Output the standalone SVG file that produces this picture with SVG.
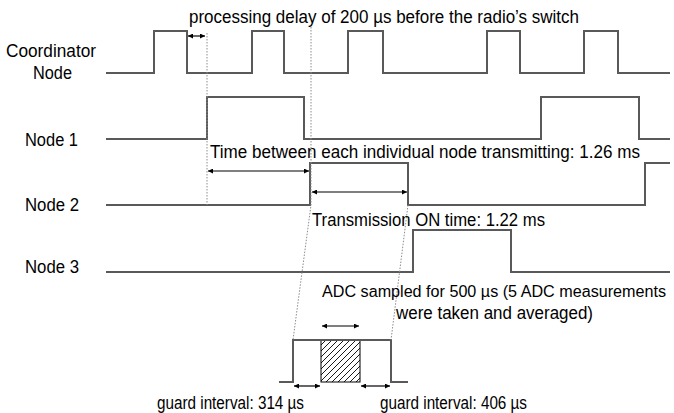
<svg xmlns="http://www.w3.org/2000/svg" width="674" height="413" viewBox="0 0 674 413">
<style>
text{font-family:"Liberation Sans",Arial,sans-serif;font-size:17.5px;fill:#000}
.sig{fill:none;stroke:#595959;stroke-width:2}
.dot{fill:none;stroke:#8c8c8c;stroke-width:1;stroke-dasharray:1.5,1.5}
.arr{fill:none;stroke:#000;stroke-width:1.2;marker-start:url(#ah);marker-end:url(#ah)}
</style>
<defs>
<marker id="ah" viewBox="0 0 10 10" refX="10" refY="5" markerWidth="5" markerHeight="5" orient="auto-start-reverse" markerUnits="userSpaceOnUse">
<path d="M0,0 L10,5 L0,10 z" fill="#000"/>
</marker>
<pattern id="hatch" patternUnits="userSpaceOnUse" width="6" height="6">
<path d="M0,6 L6,0 M-1,1 L1,-1 M5,7 L7,5" stroke="#000" stroke-width="0.9"/>
</pattern>
</defs>

<g id="labels">
<text x="6" y="57" textLength="90" lengthAdjust="spacingAndGlyphs">Coordinator</text>
<text x="33" y="79" textLength="39" lengthAdjust="spacingAndGlyphs">Node</text>
<text x="25" y="146" textLength="53" lengthAdjust="spacingAndGlyphs">Node 1</text>
<text x="25" y="211" textLength="54" lengthAdjust="spacingAndGlyphs">Node 2</text>
<text x="25" y="273" textLength="54" lengthAdjust="spacingAndGlyphs">Node 3</text>
</g>

<g id="coordinator">
<path class="sig" d="M106,73 H154 V31 H187 V73 H252 V31 H284 V73 H348 V31 H383 V73 H487 V31 H520 V73 H584 V31 H618 V73 H670"/>
</g>
<g id="node1">
<path class="sig" d="M106,139 H207 V97 H304 V139 H541 V97 H639 V139 H670"/>
</g>
<g id="node2">
<path class="sig" d="M106,205 H310 V163 H408 V205 H645 V163 H670"/>
</g>
<g id="node3">
<path class="sig" d="M106,272 H413 V230 H511 V272 H670"/>
</g>
<g id="adc-detail">
<rect x="321" y="340" width="39" height="42" fill="url(#hatch)" stroke="#000" stroke-width="1"/>
<path class="sig" d="M279,382 H293 V340 H391 V382 H408"/>
</g>

<g id="connectors">
<path class="dot" d="M207,33 V205"/>
<path class="dot" d="M311,27 V205 L293,340"/>
<path class="dot" d="M408,205 L391,340"/>
<path class="arr" d="M188,36 H205"/>
<path class="arr" d="M208,171 H309"/>
<path class="arr" d="M312,192 H407"/>
<path class="arr" d="M322,326 H359"/>
<path class="arr" d="M294,386 H320"/>
<path class="arr" d="M361,386 H390"/>
</g>

<g id="annotations">
<text x="189" y="23" textLength="390" lengthAdjust="spacingAndGlyphs">processing delay of 200 µs before the radio’s switch</text>
<text x="210" y="158" textLength="430" lengthAdjust="spacingAndGlyphs">Time between each individual node transmitting: 1.26 ms</text>
<text x="312" y="226" textLength="233" lengthAdjust="spacingAndGlyphs">Transmission ON time: 1.22 ms</text>
<text x="322" y="297" style="font-size:16px" textLength="344" lengthAdjust="spacingAndGlyphs">ADC sampled for 500 µs (5 ADC measurements</text>
<text x="396" y="319" textLength="197" lengthAdjust="spacingAndGlyphs">were taken and averaged)</text>
<text x="157" y="409" textLength="147" lengthAdjust="spacingAndGlyphs">guard interval: 314 µs</text>
<text x="380" y="409" textLength="147" lengthAdjust="spacingAndGlyphs">guard interval: 406 µs</text>
</g>
</svg>
